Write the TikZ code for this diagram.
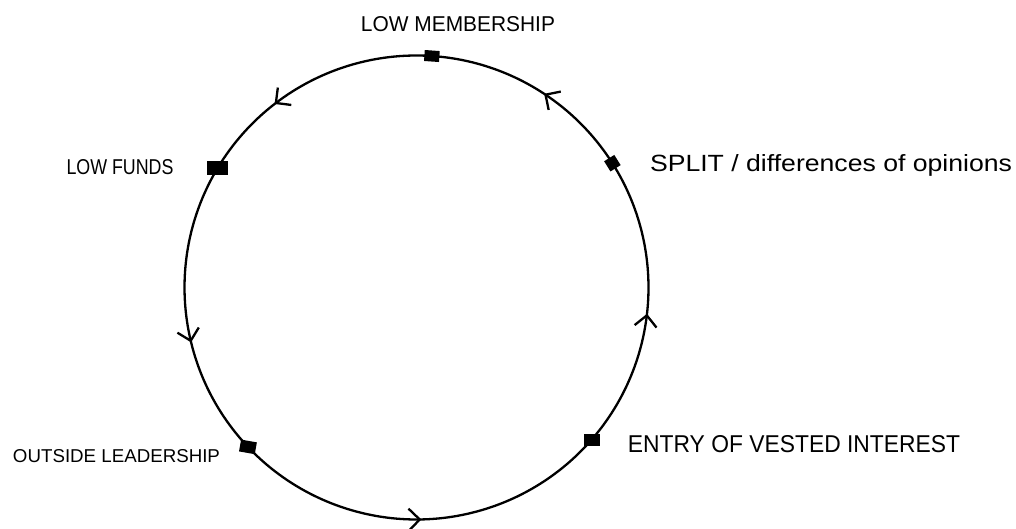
\documentclass[tikz,border=0pt]{standalone}
\usepackage{fontspec}
\setmainfont{Liberation Sans}
\usetikzlibrary{arrows.meta,decorations.markings,calc}
\pgfdeclarelayer{bg}
\pgfsetlayers{bg,main}
\begin{document}
\begin{tikzpicture}[x=1pt,y=1pt,
  dotnode/.style={fill=black,draw=none,rectangle,minimum width=15pt,minimum height=11pt,inner sep=0pt},
  lbl/.style={inner sep=0pt,text=black},
  ring/.style={line width=2.3pt,black},
  midarrow/.style={decoration={markings,
      mark=at position #1 with {\arrow{Straight Barb[length=11pt,width=22pt,line width=2.3pt]}}},
      postaction={decorate}}
]
\useasboundingbox (0,0) rectangle (1016,528);
\coordinate (C) at (416.5,240.5);
\def\R{232}
% nodes on the ring
\node[dotnode,rotate=-4] (M) at ($(C)+(86.2:\R)$) {};
\node[dotnode,minimum width=12pt,minimum height=12pt,rotate=-58] (S) at ($(C)+(32.4:\R)$) {};
\node[dotnode,minimum width=16pt,minimum height=12pt,rotate=0] (E) at ($(C)+(-41:\R)$) {};
\node[dotnode,minimum width=16pt,minimum height=12pt,rotate=-10] (O) at ($(C)+(223.4:\R)$) {};
\node[dotnode,minimum width=21pt,minimum height=14pt,rotate=0] (F) at ($(C)+(149.1:\R)$) {};
% labels
\node[lbl,anchor=base] (tM) at (458,496) {\resizebox{194pt}{15pt}{LOW MEMBERSHIP}};
\node[lbl,anchor=base] (tF) at (120,353) {\resizebox{107pt}{15pt}{LOW FUNDS}};
\node[lbl,anchor=base] (tS) at (831,356) {\resizebox{362pt}{17pt}{SPLIT / differences of opinions}};
\node[lbl,anchor=base] (tE) at (794,76) {\resizebox{332pt}{17pt}{ENTRY OF VESTED INTEREST}};
\node[lbl,anchor=base] (tO) at (116.5,66) {\resizebox{207pt}{13pt}{OUTSIDE LEADERSHIP}};
% ring arcs
\begin{pgfonlayer}{bg}
\draw[ring,midarrow=0.66] (M.center) arc[start angle=86.2,end angle=149.1,radius=\R];
\draw[ring,midarrow=0.6] (F.center) arc[start angle=149.1,end angle=223.4,radius=\R];
\draw[ring,midarrow=0.5] (O.center) arc[start angle=223.4,end angle=319,radius=\R];
\draw[ring,midarrow=0.47] (E.center) arc[start angle=319,end angle=392.4,radius=\R];
\draw[ring,midarrow=0.45] (S.center) arc[start angle=32.4,end angle=86.2,radius=\R];
\end{pgfonlayer}
\end{tikzpicture}
\end{document}
